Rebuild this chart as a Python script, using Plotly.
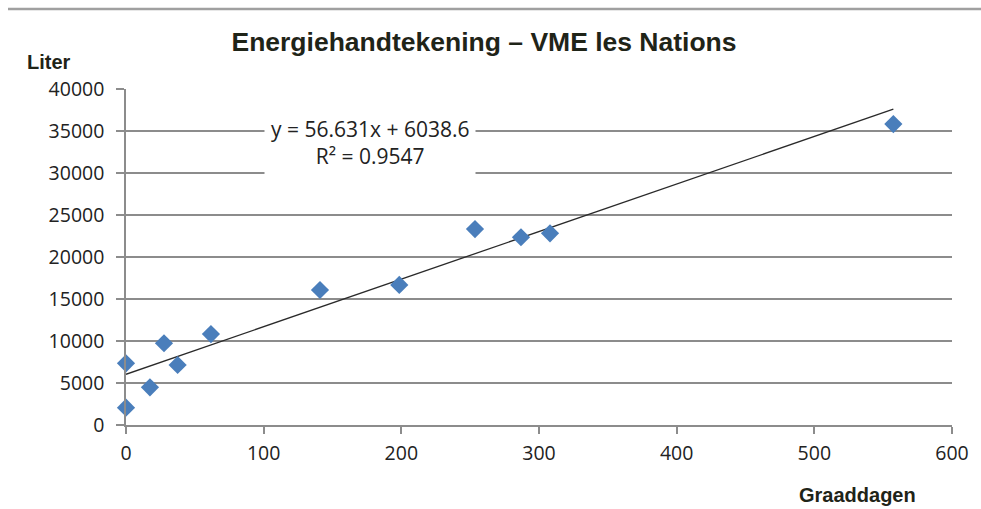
import plotly.graph_objects as go

# Data
graaddagen = [0, 0, 17.4, 27.6, 37.5, 61.7, 140.9, 198.5, 253.5, 286.9, 308.0, 557.4]
liter = [7345, 2060, 4490, 9730, 7140, 10830, 16070, 16670, 23330, 22350, 22820, 35830]

trend_slope = 56.631
trend_intercept = 6038.6
r_squared = 0.9547

x_ticks = [0, 100, 200, 300, 400, 500, 600]
y_ticks = [0, 5000, 10000, 15000, 20000, 25000, 30000, 35000, 40000]

title_text = "Energiehandtekening – VME les Nations"
y_label = "Liter"
x_label = "Graaddagen"

trend_x = [0, max(graaddagen)]
trend_y = [trend_slope * v + trend_intercept for v in trend_x]

grid = "#8c8c8c"
txt = "#1f2418"

fig = go.Figure()
fig.add_trace(go.Scatter(
    x=trend_x, y=trend_y, mode="lines",
    line=dict(color="#2a2a2a", width=1.3),
    hoverinfo="skip", showlegend=False, cliponaxis=False,
))
fig.add_trace(go.Scatter(
    x=graaddagen, y=liter, mode="markers",
    marker=dict(symbol="diamond", size=14, color="#4a7ebb", line=dict(width=0)),
    showlegend=False, cliponaxis=False,
))

fig.update_layout(
    width=981, height=509,
    margin=dict(l=126, r=29, t=89, b=84),
    paper_bgcolor="white", plot_bgcolor="white",
    font=dict(family="Open Sans, sans-serif", color=txt),
    title=dict(text=title_text, x=(484 - 126) / 826, xref="paper", xanchor="center",
               y=1 - 42 / 509, yref="container", yanchor="middle",
               font=dict(family="Liberation Sans, Arial, sans-serif", size=26.5, color=txt, weight="bold")),
    showlegend=False,
)

fig.update_xaxes(
    range=[0, 600], tickvals=x_ticks, ticktext=[str(v) for v in x_ticks],
    showgrid=False, zeroline=False,
    showline=True, linecolor=grid, linewidth=1.5,
    ticks="outside", ticklen=7, tickcolor=grid, tickwidth=1.5,
    tickfont=dict(size=19.5, color="#222"), ticklabelstandoff=3,
)
fig.update_yaxes(
    range=[0, 40000], tickvals=y_ticks, ticktext=[str(v) for v in y_ticks],
    showgrid=True, gridcolor=grid, gridwidth=1.5, zeroline=False,
    showline=True, linecolor=grid, linewidth=1.5,
    ticks="outside", ticklen=8, tickcolor=grid, tickwidth=1.5,
    tickfont=dict(size=19.5, color="#222"), ticklabelstandoff=8,
)

fig.add_annotation(
    x=177.2, y=33600, xref="x", yref="y",
    text=f"y = {trend_slope}x + {trend_intercept}<br>R² = {r_squared}",
    showarrow=False, align="center", xanchor="center", yanchor="middle",
    font=dict(family="Open Sans, sans-serif", size=21, color="#222"),
    bgcolor="white", borderpad=6,
)
fig.add_annotation(
    x=(25 - 126) / 826, y=(425 - 62) / 336, xref="paper", yref="paper",
    text=y_label, showarrow=False, xanchor="left", yanchor="middle",
    font=dict(family="Liberation Sans, Arial, sans-serif", size=20, color=txt, weight="bold"),
)
fig.add_annotation(
    x=(857.5 - 126) / 826, y=(425 - 495) / 336, xref="paper", yref="paper",
    text=x_label, showarrow=False, xanchor="center", yanchor="middle",
    font=dict(family="Liberation Sans, Arial, sans-serif", size=20, color=txt, weight="bold"),
)
fig.add_shape(
    type="line", xref="paper", yref="paper",
    x0=(8 - 126) / 826, x1=(981 - 126) / 826,
    y0=(425 - 9) / 336, y1=(425 - 9) / 336,
    line=dict(color="#a0a0a0", width=2.5),
)

fig.write_html("out.html", config={"displayModeBar": False},
               post_script="document.body.style.margin='0';document.body.style.padding='0';")
